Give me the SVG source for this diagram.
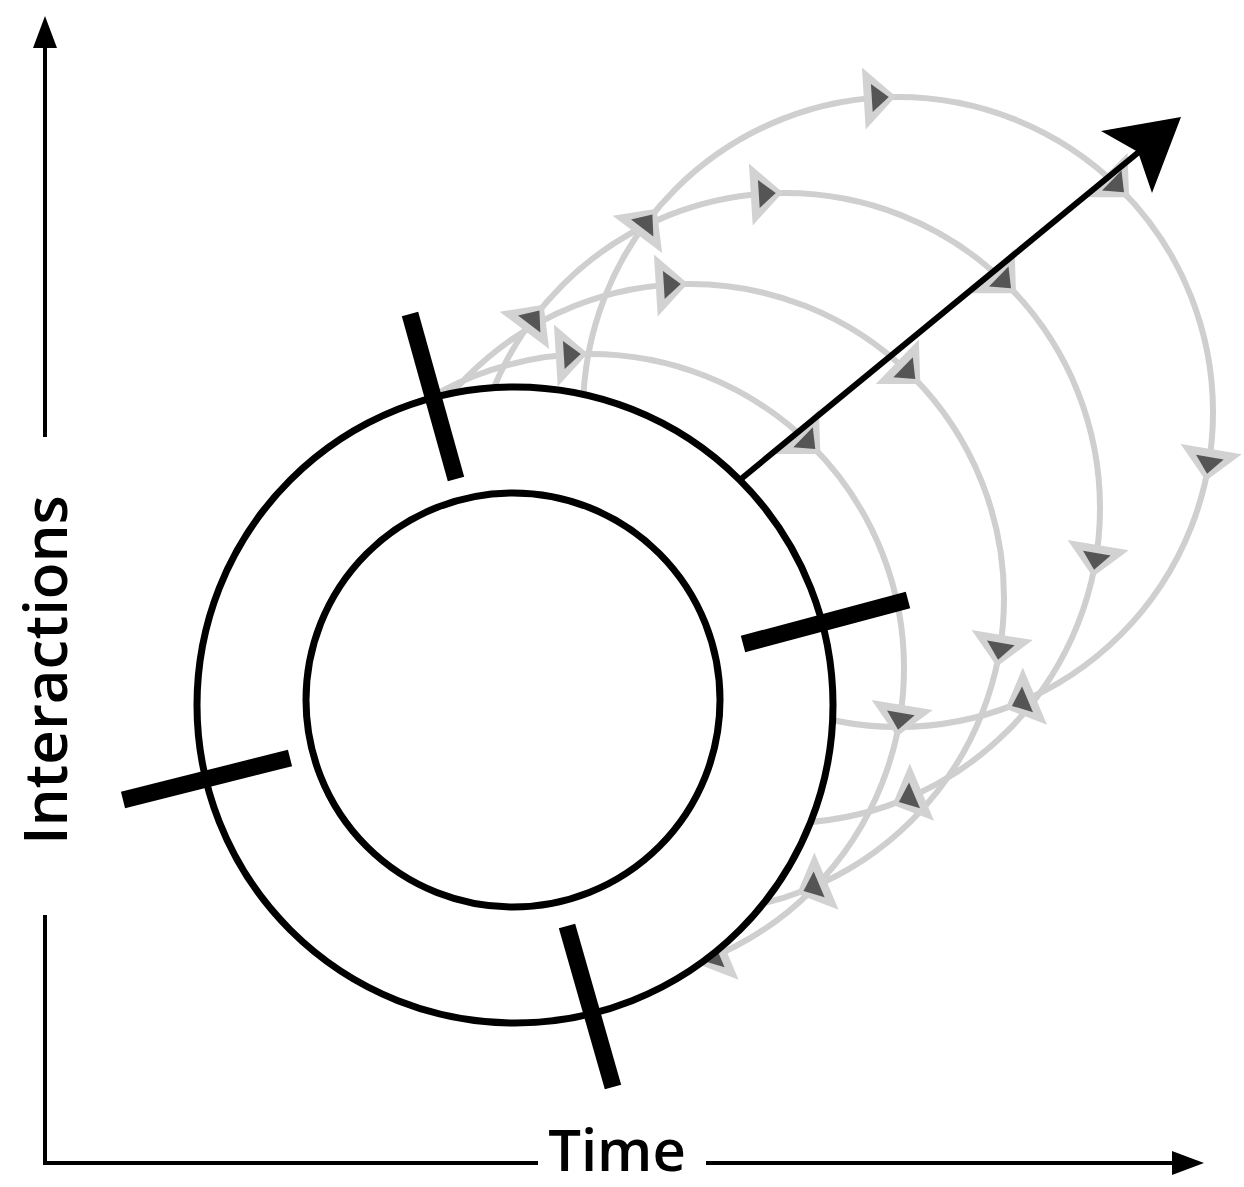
<svg xmlns="http://www.w3.org/2000/svg" width="1244" height="1187" viewBox="0 0 1244 1187">
<style>
.loop{fill:none;stroke:#cfcfcf;stroke-width:6}
.ring{fill:#fff;stroke:#000;stroke-width:7}
.tick{stroke:#000;stroke-width:17;fill:none}
.axis{stroke:#000;stroke-width:4;fill:none}
.lbl{font-family:"Open Sans","Noto Sans","DejaVu Sans",sans-serif;font-weight:600;font-size:60px;fill:#000}
</style>
<defs>
<g id="ah"><polygon points="-15,-31 17,0 -15,31" fill="#d2d2d2"/><polygon points="-7,-14 10,0 -7,14" fill="#555"/></g>
</defs>
<rect width="1244" height="1187" fill="#fff"/>
<g id="loops">
<circle class="loop" cx="898" cy="412" r="315"/>
<circle class="loop" cx="785" cy="508" r="315"/>
<circle class="loop" cx="690" cy="598" r="314"/>
<circle class="loop" cx="590" cy="668" r="314"/>
</g>
<g id="loop-arrows">
<use href="#ah" transform="translate(646.4,222.4) rotate(-53)"/>
<use href="#ah" transform="translate(878.8,97.6) rotate(-3.5)"/>
<use href="#ah" transform="translate(1116.8,185.4) rotate(44)"/>
<use href="#ah" transform="translate(1208.7,464) rotate(99.5)"/>
<use href="#ah" transform="translate(1021.1,702) rotate(157)"/>
<use href="#ah" transform="translate(533.4,318.4) rotate(-53)"/>
<use href="#ah" transform="translate(765.8,193.6) rotate(-3.5)"/>
<use href="#ah" transform="translate(1003.8,281.4) rotate(44)"/>
<use href="#ah" transform="translate(1095.7,560) rotate(99.5)"/>
<use href="#ah" transform="translate(908.1,798) rotate(157)"/>
<use href="#ah" transform="translate(670.8,284.6) rotate(-3.5)"/>
<use href="#ah" transform="translate(908.1,372.1) rotate(44)"/>
<use href="#ah" transform="translate(999.7,649.8) rotate(99.5)"/>
<use href="#ah" transform="translate(812.7,887) rotate(157)"/>
<use href="#ah" transform="translate(570.8,354.6) rotate(-3.5)"/>
<use href="#ah" transform="translate(808.1,442.1) rotate(44)"/>
<use href="#ah" transform="translate(899.7,719.8) rotate(99.5)"/>
<use href="#ah" transform="translate(712.7,957) rotate(157)"/>
</g>
<g id="cylinder">
<circle class="ring" cx="515" cy="705" r="318"/>
<circle class="ring" cx="513" cy="700" r="207"/>
</g>
<g id="ticks">
<line class="tick" x1="410" y1="314" x2="456" y2="479"/>
<line class="tick" x1="743" y1="644" x2="908" y2="600"/>
<line class="tick" x1="123" y1="800" x2="290" y2="758"/>
<line class="tick" x1="567" y1="926" x2="613" y2="1087"/>
</g>
<g id="time-arrow">
<line x1="741" y1="479" x2="1140" y2="151" stroke="#000" stroke-width="6"/>
<polygon points="1181,117 1101,131 1138,152 1152,193" fill="#000"/>
</g>
<g id="axes">
<line class="axis" x1="45" y1="44" x2="45" y2="437"/>
<line class="axis" x1="45" y1="915" x2="45" y2="1165"/>
<polygon points="45,16 33,48 57,48" fill="#000"/>
<line class="axis" x1="43" y1="1163" x2="538" y2="1163"/>
<line class="axis" x1="706" y1="1163" x2="1176" y2="1163"/>
<polygon points="1204,1163 1172,1151 1172,1175" fill="#000"/>
<text class="lbl" x="617" y="1171" text-anchor="middle" style="font-size:58px">Time</text>
<text class="lbl" transform="translate(67,670) rotate(-90)" text-anchor="middle">Interactions</text>
</g>
</svg>
